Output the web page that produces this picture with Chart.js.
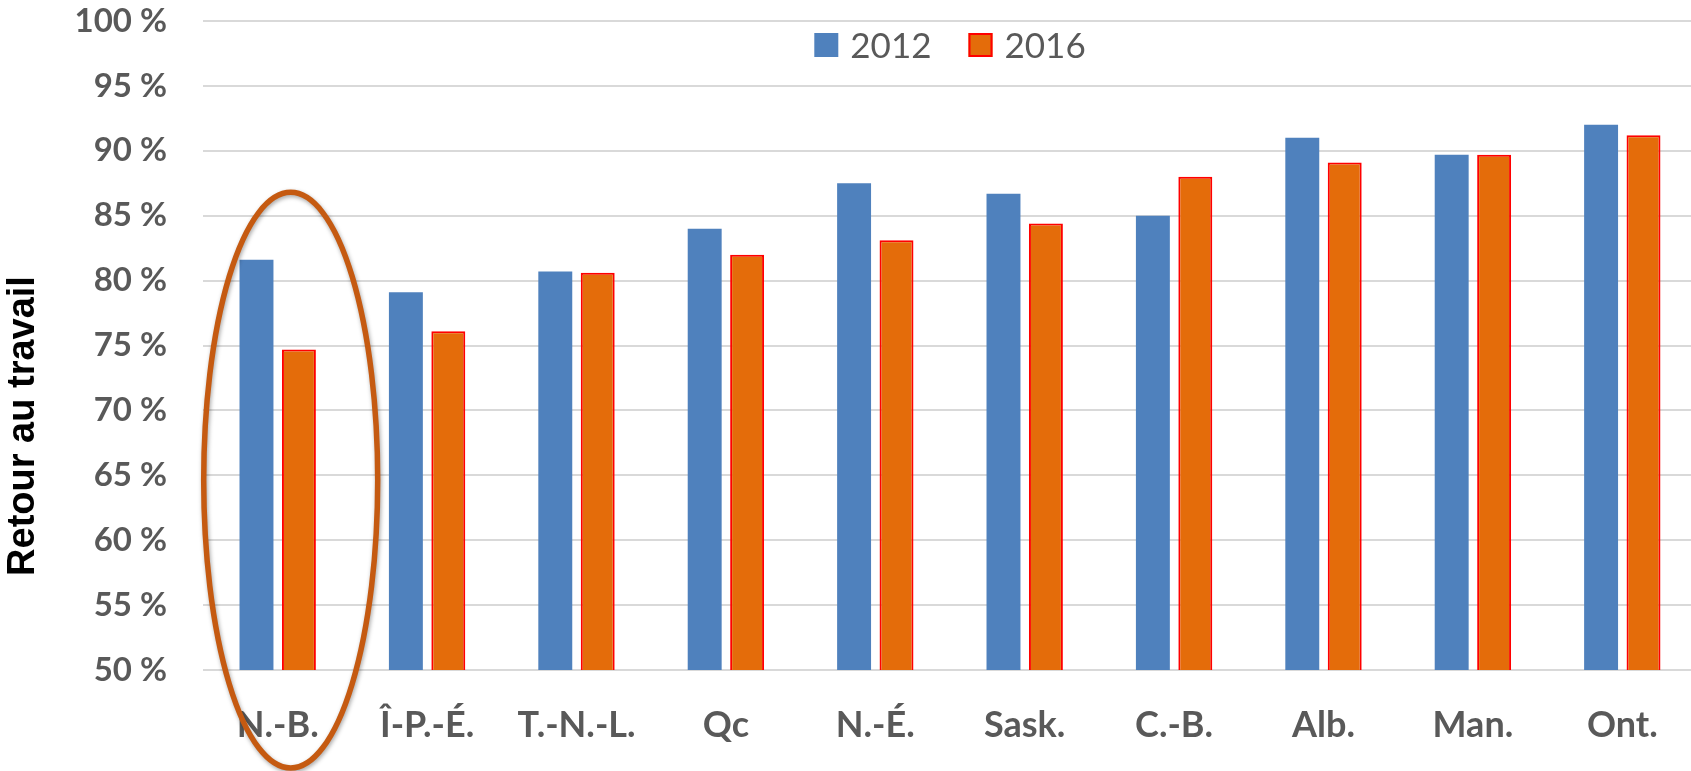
<!DOCTYPE html>
<html lang="fr">

<head>
    <meta charset="UTF-8">
    <title>Retour au travail 2012 / 2016</title>
    <script src="https://cdn.jsdelivr.net/npm/chart.js"></script>
    <style>
        html, body { margin: 0; padding: 0; background: #fff; overflow: hidden; }
        #wrap { width: 1697px; height: 771px; }
    </style>
</head>

<body>
    <div id="wrap"><canvas id="retourChart" width="1697" height="771"></canvas></div>

    <script>
        // Data
        const provinces = ['N.-B.', 'Î-P.-É.', 'T.-N.-L.', 'Qc', 'N.-É.', 'Sask.', 'C.-B.', 'Alb.', 'Man.', 'Ont.'];
        const values2012 = [81.6, 79.1, 80.7, 84.0, 87.5, 86.7, 85.0, 91.0, 89.7, 92.0];
        const values2016 = [74.7, 76.1, 80.6, 82.0, 83.1, 84.4, 88.0, 89.1, 89.7, 91.2];
        const seriesNames = ['2012', '2016'];
        const yTicks = [50, 55, 60, 65, 70, 75, 80, 85, 90, 95, 100];
        const axisTitle = 'Retour au travail';

        const BLUE = '#4F81BD';
        const ORANGE = '#E46C0A';
        const GREY_TEXT = '#595959';

        // Legend inside the plot, y title and the ellipse round N.-B.
        const extras = {
            id: 'extras',
            afterDraw(chart) {
                const ctx = chart.ctx;
                const area = chart.chartArea;
                const xs = chart.scales.x;
                const ys = chart.scales.y;

                // ellipse round the first category
                const cx = xs.getPixelForValue(0) + 13;
                const top = ys.getPixelForValue(86.8);
                const bottom = chart.height - 3;
                ctx.save();
                ctx.shadowColor = 'rgba(0,0,0,0.35)';
                ctx.shadowBlur = 4;
                ctx.shadowOffsetX = 1;
                ctx.shadowOffsetY = 2;
                ctx.strokeStyle = '#C55A11';
                ctx.lineWidth = 5.5;
                ctx.beginPath();
                ctx.ellipse(cx, (top + bottom) / 2, 87, (bottom - top) / 2, 0, 0, Math.PI * 2);
                ctx.stroke();
                ctx.restore();

                // legend
                ctx.save();
                ctx.font = '35px Lato';
                const box = 24, gapText = 12, gapItem = 37;
                const colours = [[BLUE, BLUE], [ORANGE, '#FF0000']];
                const widths = seriesNames.map(s => box + gapText + ctx.measureText(s).width);
                const total = widths[0] + widths[1] + gapItem;
                let x = (area.left + area.right) / 2 - total / 2;
                seriesNames.forEach((name, i) => {
                    ctx.fillStyle = colours[i][0];
                    ctx.fillRect(x, 33, box, box);
                    if (i === 1) {
                        ctx.strokeStyle = colours[i][1];
                        ctx.lineWidth = 2;
                        ctx.strokeRect(x + 1, 34, box - 2, box - 2);
                    }
                    ctx.fillStyle = GREY_TEXT;
                    ctx.textBaseline = 'alphabetic';
                    ctx.textAlign = 'left';
                    ctx.fillText(name, x + box + gapText, 58);
                    x += widths[i] + gapItem;
                });
                ctx.restore();

                // y axis title
                ctx.save();
                ctx.translate(34, 426);
                ctx.rotate(-Math.PI / 2);
                ctx.font = 'bold 38px "Liberation Sans"';
                ctx.fillStyle = '#000';
                ctx.textAlign = 'center';
                ctx.textBaseline = 'alphabetic';
                ctx.fillText(axisTitle, 0, 0);
                ctx.restore();
            }
        };

        const ctx = document.getElementById('retourChart').getContext('2d');
        const chart = new Chart(ctx, {
            type: 'bar',
            data: {
                labels: provinces,
                datasets: [{
                    label: seriesNames[0],
                    data: values2012,
                    backgroundColor: BLUE,
                    borderWidth: 0
                }, {
                    label: seriesNames[1],
                    data: values2016,
                    backgroundColor: ORANGE,
                    borderColor: '#FF0000',
                    borderWidth: 2
                }]
            },
            options: {
                responsive: false,
                animation: false,
                categoryPercentage: 0.568,
                barPercentage: 0.8,
                layout: { padding: { top: 0, right: 0, bottom: 0, left: 0 } },
                plugins: {
                    legend: { display: false },
                    tooltip: { enabled: false }
                },
                scales: {
                    x: {
                        grid: { display: false, drawTicks: false },
                        border: { display: false },
                        ticks: {
                            color: GREY_TEXT,
                            font: { family: 'Lato', weight: 'bold', size: 36 },
                            padding: 34,
                            maxRotation: 0
                        },
                        afterFit(scale) { scale.height = 101; }
                    },
                    y: {
                        min: 50,
                        max: 100,
                        afterBuildTicks(scale) { scale.ticks = yTicks.map(v => ({ value: v })); },
                        grid: { color: '#D9D9D9', lineWidth: 2, drawTicks: false },
                        border: { display: false },
                        ticks: {
                            color: GREY_TEXT,
                            font: { family: 'Lato', weight: 'bold', size: 33 },
                            padding: 36,
                            callback: v => v + ' %'
                        },
                        afterFit(scale) {
                            scale.width = 203;
                            // keep the 100 % line near the top edge
                            scale.paddingTop = 21;
                            scale.paddingBottom = 21;
                        }
                    }
                }
            },
            plugins: [extras]
        });
    </script>
</body>

</html>
